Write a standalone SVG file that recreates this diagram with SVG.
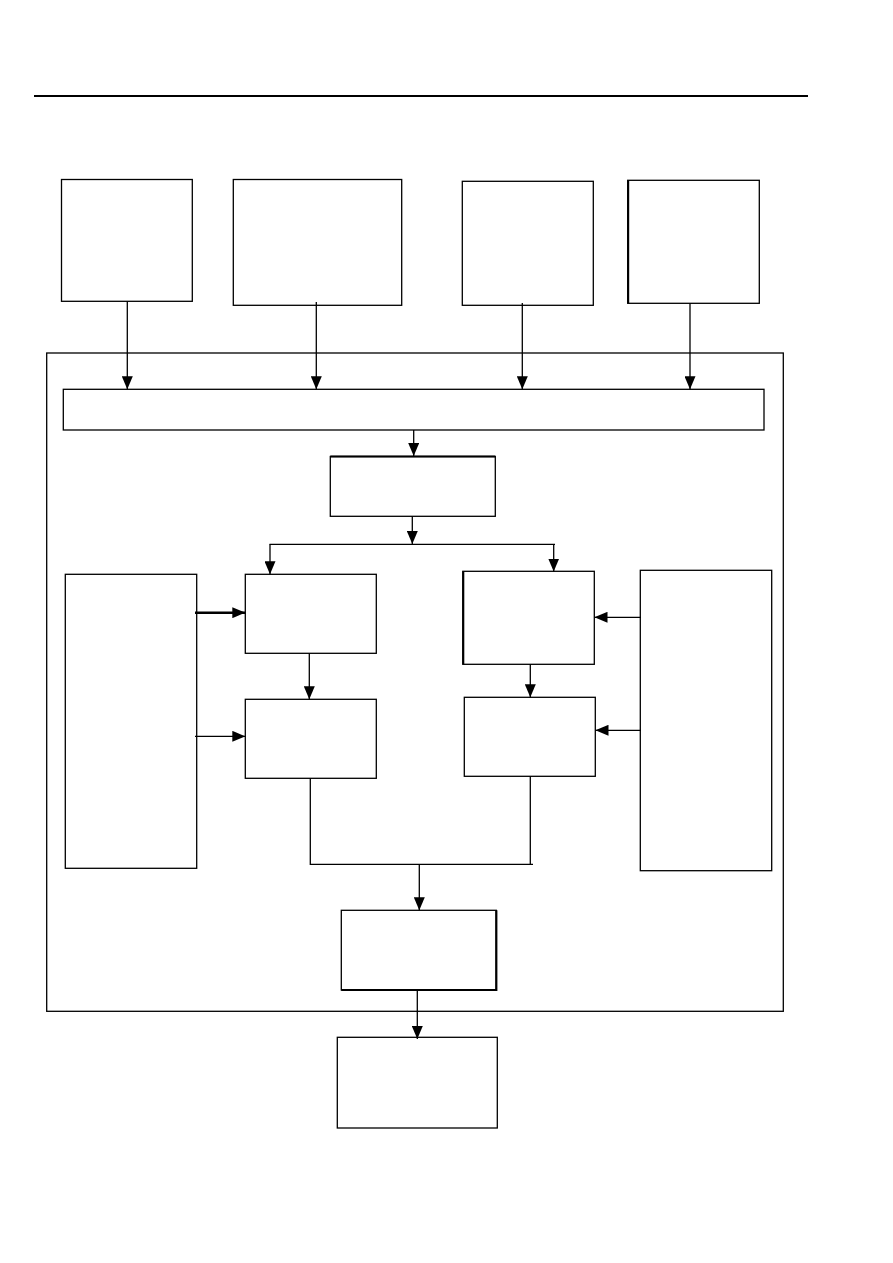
<svg xmlns="http://www.w3.org/2000/svg" width="893" height="1263" viewBox="0 0 893 1263">
<style>
.box{fill:#fff;stroke:#000;stroke-width:1.3}
.ln{fill:none;stroke:#000;stroke-width:1.3}
.arr{fill:none;stroke:#000;stroke-width:1.3;marker-end:url(#ah)}
.arr.bold{stroke-width:2.6}
</style>
<defs>
<marker id="ah" viewBox="0 0 13 11" refX="13" refY="5.5" markerWidth="13" markerHeight="11" markerUnits="userSpaceOnUse" orient="auto">
<path d="M0,0 L13,5.5 L0,11 Z" fill="#000"/>
</marker>
</defs>
<rect width="893" height="1263" fill="#fff"/>
<line x1="34" y1="96" x2="808" y2="96" stroke="#000" stroke-width="2"/>
<g id="container"><rect class="box" x="46.7" y="353" width="736.6" height="658.3" fill="none"/></g>
<g id="nodeA"><rect class="box" x="61.5" y="179.5" width="130.8" height="121.8"/></g>
<g id="nodeB"><rect class="box" x="233.3" y="179.5" width="168.4" height="125.8"/></g>
<g id="nodeC"><rect class="box" x="462.3" y="181.3" width="131" height="124"/></g>
<g id="nodeD"><rect class="box" x="627.7" y="180.3" width="131.6" height="123"/><line x1="628.2" y1="180.3" x2="628.2" y2="303.3" stroke="#000" stroke-width="2"/></g>
<g id="bar"><rect class="box" x="63.3" y="389.3" width="700.7" height="40.7"/></g>
<g id="nodeE"><rect class="box" x="330.3" y="456.5" width="165" height="59.8"/><line x1="330.3" y1="456.5" x2="495.3" y2="456.5" stroke="#000" stroke-width="2.2"/></g>
<g id="leftTall"><rect class="box" x="65.3" y="574.3" width="131.4" height="294"/></g>
<g id="nodeF"><rect class="box" x="245.3" y="574.3" width="131" height="79"/></g>
<g id="nodeI"><rect class="box" x="245.3" y="699.3" width="131" height="79"/></g>
<g id="nodeG"><rect class="box" x="462.8" y="571.3" width="131.5" height="93"/><line x1="463.3" y1="571.3" x2="463.3" y2="664.3" stroke="#000" stroke-width="2"/></g>
<g id="nodeH"><rect class="box" x="464.3" y="697.3" width="131" height="79"/></g>
<g id="rightTall"><rect class="box" x="640.3" y="570.3" width="131.4" height="300.4"/></g>
<g id="nodeJ"><rect class="box" x="341.3" y="910.3" width="155" height="79.7"/><path d="M341.3,990 H496.3 V910.3" fill="none" stroke="#000" stroke-width="2.2"/></g>
<g id="nodeK"><rect class="box" x="337.3" y="1037.3" width="160" height="90.7"/></g>
<g id="connectors">
<line class="arr" x1="127.3" y1="301.3" x2="127.3" y2="389.3"/>
<line class="arr" x1="316.3" y1="302" x2="316.3" y2="389.3"/>
<line class="arr" x1="522.3" y1="303" x2="522.3" y2="389.3"/>
<line class="arr" x1="690" y1="303.3" x2="690" y2="389.3"/>
<line class="arr" x1="413.7" y1="430" x2="413.7" y2="456"/>
<line class="arr" x1="412.3" y1="516.3" x2="412.3" y2="544"/>
<line class="ln" x1="269.5" y1="544.3" x2="555" y2="544.3"/>
<line class="arr" x1="270" y1="544.3" x2="270" y2="574.3"/>
<line class="arr" x1="553.7" y1="544.3" x2="553.7" y2="571.5"/>
<line class="arr bold" x1="195" y1="612.7" x2="245.3" y2="612.7"/>
<line class="arr" x1="195" y1="736.3" x2="245.3" y2="736.3"/>
<line class="arr" x1="309.3" y1="653.3" x2="309.3" y2="699.3"/>
<line class="arr" x1="641" y1="617.3" x2="594.5" y2="617.3"/>
<line class="arr" x1="641" y1="730.3" x2="595.5" y2="730.3"/>
<line class="arr" x1="530.3" y1="664.3" x2="530.3" y2="697.3"/>
<polyline class="ln" points="310.3,778.3 310.3,864.3 533,864.3"/>
<line class="ln" x1="530.3" y1="776.3" x2="530.3" y2="864.3"/>
<line class="arr" x1="419.3" y1="864.3" x2="419.3" y2="910.3"/>
<line class="arr" x1="417.3" y1="990" x2="417.3" y2="1039"/>
</g>
</svg>
